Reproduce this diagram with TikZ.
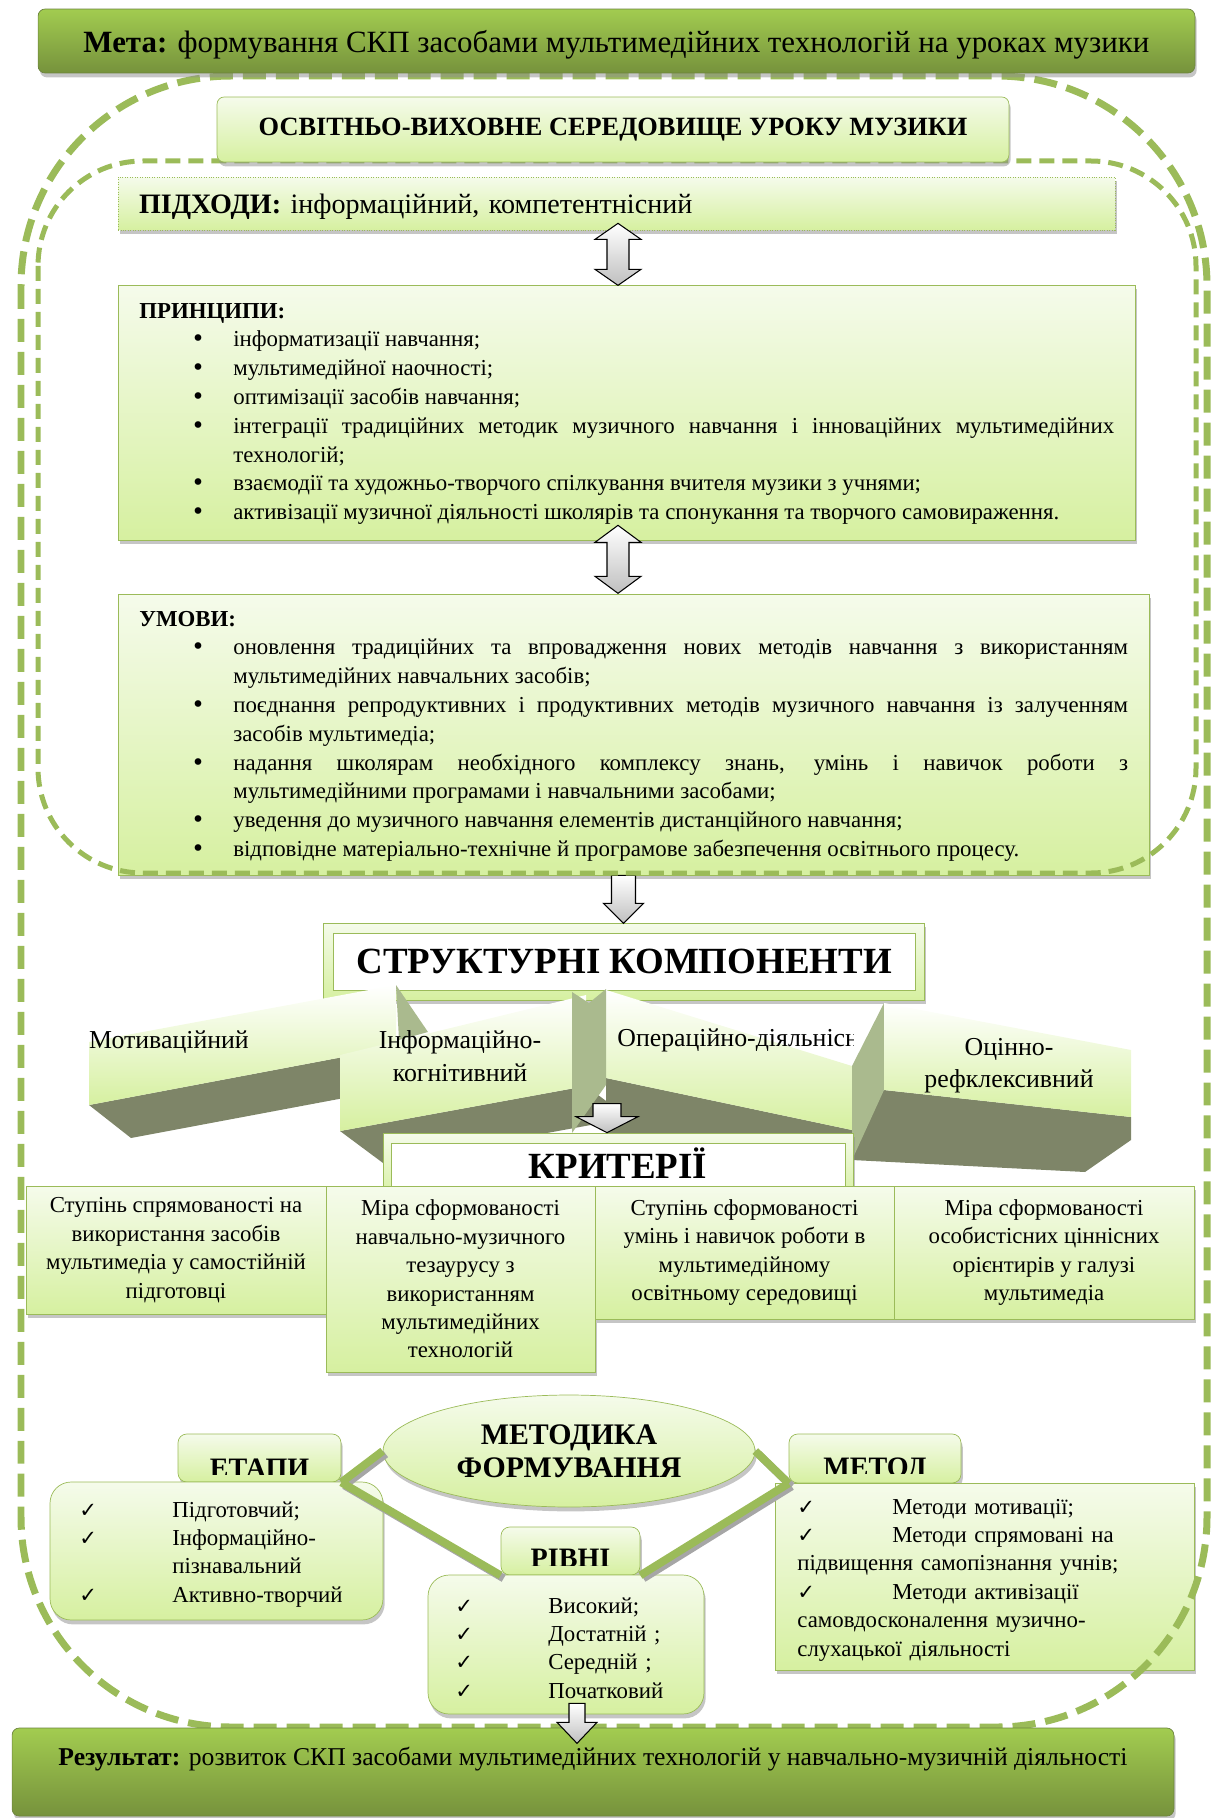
\documentclass[tikz,border=0pt]{standalone}
\usepackage{fontspec}
\setmainfont{Liberation Serif}
\newfontfamily\chkfont{DejaVu Sans}
\usetikzlibrary{calc}
\usetikzlibrary{shadows}
\usetikzlibrary{shapes}

\definecolor{grnline}{RGB}{155,187,89}
\definecolor{grntop}{RGB}{162,204,80}
\definecolor{grnbot}{RGB}{118,146,60}
\definecolor{paletop}{RGB}{245,251,235}
\definecolor{palebot}{RGB}{214,240,160}
\definecolor{facelight}{RGB}{214,240,160}
\definecolor{facedark}{RGB}{126,133,104}
\definecolor{facefold}{RGB}{170,186,142}

\tikzstyle{darkbox}=[rectangle, draw=grnline!70!black, top color=grntop, bottom color=grnbot,
        rounded corners=4pt, drop shadow={shadow xshift=1pt, shadow yshift=-2.5pt, fill=black!45}]
\tikzstyle{palebox}=[rectangle, draw=grnline, top color=paletop, bottom color=palebot,
        drop shadow={shadow xshift=1pt, shadow yshift=-2.5pt, fill=black!45}]
\tikzstyle{whitebox}=[rectangle, draw=grnline, fill=white]
\tikzstyle{tabbox}=[palebox, rounded corners=5pt]
\tikzstyle{listbox}=[palebox, rounded corners=12pt]
\tikzstyle{body}=[font=\fontsize{13}{16.2}\selectfont, inner sep=0pt]
\tikzstyle{longtext}=[font=\fontsize{13}{16.4}\selectfont, inner sep=0pt]
\tikzstyle{paneltext}=[font=\fontsize{14.7}{18.4}\selectfont, align=center, inner sep=0pt]
\tikzstyle{tabtext}=[font=\fontsize{16}{18}\selectfont\bfseries, inner sep=0pt]
\tikzstyle{bigtext}=[font=\fontsize{21}{24}\selectfont\bfseries]
\tikzstyle{face}=[top color=white, bottom color=facelight]
\tikzstyle{side}=[fill=facedark]
\tikzstyle{fold}=[fill=facefold]
\tikzstyle{blockarrow}=[draw=black, line width=0.6pt, top color=white, bottom color=gray!50]
\tikzstyle{band}=[line width=4.5pt, grnline]
\tikzstyle{bandshadow}=[line width=4.5pt, gray!70]
\tikzstyle{outerdash}=[grnline, line width=0.14cm, dash pattern=on 0.46cm off 0.2cm, rounded corners=4.2cm]
\tikzstyle{innerdash}=[grnline, line width=0.1cm, dash pattern=on 0.3cm off 0.16cm, rounded corners=2.1cm]

\newcommand{\bitem}[1]{\par\noindent\hangindent=1.88cm\hangafter=1%
  \makebox[1.88cm][l]{\hspace{1.04cm}{\chkfont •}}#1}
\newcommand{\chka}{\makebox[1.74cm][l]{\hspace{-0.12cm}\chkfont\fontsize{12}{12}\selectfont ✓}}
\newcommand{\chkb}{\makebox[1.9cm][l]{\chkfont\fontsize{12}{12}\selectfont ✓}}

\hyphenpenalty=10000
\exhyphenpenalty=10000

\begin{document}
\begin{tikzpicture}[x=0.02cm, y=-0.02cm]
    \useasboundingbox (0,0) rectangle (1213,1818);

    \node (pidkhody) [palebox, densely dotted, minimum width=19.94cm, minimum height=1.06cm,
                      text width=19.1cm, inner xsep=0.42cm, align=left, text depth=0pt,
                      font=\fontsize{16}{18}\selectfont] at (616.5,203.5)
        {\textbf{ПІДХОДИ:} інформаційний, компетентнісний};

    \node (pryntsypy) [palebox, minimum width=20.34cm, minimum height=5.1cm] at (626.5,412.5) {};
    \node (pryntsypytxt) [longtext, text width=19.5cm, align=justify, anchor=base west] at (139,318) {%
      \textbf{ПРИНЦИПИ:}
      \bitem{інформатизації навчання;}
      \bitem{мультимедійної наочності;}
      \bitem{оптимізації засобів навчання;}
      \bitem{інтеграції традиційних методик музичного навчання і інноваційних мультимедійних\linebreak технологій;}
      \bitem{взаємодії та художньо-творчого спілкування вчителя музики з учнями;}
      \bitem{активізації музичної діяльності школярів та спонукання та творчого самовираження.}};

    \node (umovy) [palebox, minimum width=20.62cm, minimum height=5.62cm] at (633.5,734.5) {};
    \node (umovytxt) [longtext, text width=19.78cm, align=justify, anchor=base west] at (139,626) {%
      \textbf{УМОВИ:}
      \bitem{оновлення традиційних та впровадження нових методів навчання з використанням\linebreak мультимедійних навчальних засобів;}
      \bitem{поєднання репродуктивних і продуктивних методів музичного навчання із залученням\linebreak засобів мультимедіа;}
      \bitem{надання школярам необхідного комплексу знань, умінь і навичок роботи з\linebreak мультимедійними програмами і навчальними засобами;}
      \bitem{уведення до музичного навчання елементів дистанційного навчання;}
      \bitem{відповідне матеріально-технічне й програмове забезпечення освітнього процесу.}};

    % up-down arrows
    \draw[blockarrow] ($(pidkhody.south)+(1.5,-7)$) -- ++(23,16) -- ++(-12,0) -- ++(0,30) -- ++(12,0)
        -- ++(-23,16) -- ++(-23,-16) -- ++(12,0) -- ++(0,-30) -- ++(-12,0) -- cycle;
    \draw[blockarrow] ($(pryntsypy.south)+(-8.5,-15)$) -- ++(23,17) -- ++(-12,0) -- ++(0,34) -- ++(12,0)
        -- ++(-23,17) -- ++(-23,-17) -- ++(12,0) -- ++(0,-34) -- ++(-12,0) -- cycle;

    % structural components
    \node (strukt) [palebox, minimum width=12.02cm, minimum height=1.54cm] at (623.5,961.5) {};
    \node (struktin) [whitebox, bigtext, minimum width=11.64cm, minimum height=1.14cm] at (624,961.5)
        {СТРУКТУРНІ КОМПОНЕНТИ};
    \draw[blockarrow] (strukt.north |- umovy.south) ++(-12,0) -- ++(24,0) -- ++(0,28) -- ++(8,0)
        -- ++(-20,20) -- ++(-20,-20) -- ++(8,0) -- cycle;

    \fill[side] (89,1105) -- (396,1047) -- (440,1080) -- (131,1138) -- cycle;
    \shade[face] (89,1042) -- (396,985) -- (396,1047) -- (89,1105) -- cycle;
    \fill[fold] (396,985) -- (428,1032) -- (399,1040) -- cycle;
    \node (mot) [paneltext] at (169,1042) {Мотиваційний};

    \fill[side] (340,1131) -- (586,1086) -- (629,1118) -- (383,1163) -- cycle;
    \shade[face] (340,1055) -- (586,995) -- (586,1086) -- (340,1131) -- cycle;
    \node (inf) [paneltext] at (460,1056) {Інформаційно-\\когнітивний};

    \fill[side] (606,1078) -- (852,1130) -- (852,1160) -- (606,1140) -- cycle;
    \shade[face] (606,990) -- (852,1066) -- (852,1130) -- (606,1078) -- cycle;
    \fill[fold] (572,992) -- (589,1003) -- (606,989) -- (606,1085) -- (572,1133) -- cycle;
    \begin{scope}
      \clip (600,1000) rectangle (853,1080);
      \node (oper) [paneltext, anchor=west] at (617,1040) {Операційно-діяльнісний};
    \end{scope}

    \fill[side] (884,1090) -- (1131,1117) -- (1131,1140) -- (1085,1172) -- (852,1160) -- (852,1130) -- cycle;
    \fill[fold] (852,1066) -- (884,1003) -- (884,1090) -- (852,1160) -- cycle;
    \shade[face] (884,1003) -- (1131,1050) -- (1131,1117) -- (884,1090) -- cycle;
    \node (ots) [paneltext] at (1009,1066) {Оцінно-\\рефклексивний};

    % criteria
    \node (krit) [palebox, minimum width=9.4cm, minimum height=1.32cm] at (618,1166) {};
    \node (kritin) [whitebox, minimum width=9.08cm, minimum height=1.12cm] at (618,1171) {};
    \node (krittxt) [bigtext, inner sep=0pt] at (618,1163) {КРИТЕРІЇ};
    \draw[blockarrow] ($(krit.north)+(-11,-29)$) ++(-14,0) -- ++(28,0) -- ++(0,13) -- ++(17,0)
        -- ++(-31,16) -- ++(-31,-16) -- ++(17,0) -- cycle;

    \node (crit1) [palebox, body, minimum width=6cm, minimum height=2.56cm, align=center] at (176,1250)
        {Ступінь спрямованості на\\використання засобів\\мультимедіа у самостійній\\підготовці};
    \node (crit2) [palebox, body, minimum width=5.38cm, minimum height=3.72cm, align=center] at (460.5,1279)
        {Міра сформованості\\навчально-музичного\\тезаурусу з\\використанням\\мультимедійних\\технологій};
    \node (crit3) [palebox, body, minimum width=5.98cm, minimum height=2.66cm, align=center] at (744.5,1252.5)
        {Ступінь сформованості\\умінь і навичок роботи в\\мультимедійному\\освітньому середовищі};
    \node (crit4) [palebox, body, minimum width=6cm, minimum height=2.66cm, align=center] at (1044,1252.5)
        {Міра сформованості\\особистісних ціннісних\\орієнтирів у галузі\\мультимедіа};

    % method of forming
    \node (metodyka) [palebox, ellipse, minimum width=7.44cm, minimum height=2.24cm, align=center,
                      font=\fontsize{17}{18.7}\selectfont\bfseries] at (569,1451) {МЕТОДИКА\\ФОРМУВАННЯ};

    \node (etapy) [tabbox, minimum width=3.26cm, minimum height=0.96cm] at (259.5,1458) {};
    \begin{scope}
      \clip ($(etapy.north west)+(0,-5)$) rectangle ($(etapy.south east)+(0,-8)$);
      \node (etapytxt) [tabtext, anchor=base] at (259.5,1477) {ЕТАПИ};
    \end{scope}
    \node (metod) [tabbox, minimum width=3.44cm, minimum height=0.98cm] at (875,1458.5) {};
    \begin{scope}
      \clip ($(metod.north west)+(0,-5)$) rectangle ($(metod.south east)+(0,-10)$);
      \node (metodtxt) [tabtext, anchor=base] at (875,1476) {МЕТОД};
    \end{scope}
    \node (rivni) [tabbox, minimum width=2.78cm, minimum height=0.96cm] at (570.5,1551) {};
    \begin{scope}
      \clip ($(rivni.north west)+(0,-5)$) rectangle ($(rivni.south east)+(0,-10)$);
      \node (rivnitxt) [tabtext, anchor=base] at (570.5,1567) {РІВНІ};
    \end{scope}

    \node (etapylist) [listbox, minimum width=6.66cm, minimum height=2.76cm] at (216.5,1551) {};
    \node (etapyitems) [body, text width=6cm, align=left, anchor=base west] at (85,1517)
        {\chka Підготовчий;\\\chka Інформаційно-\\\hspace*{1.74cm}пізнавальний\\\chka Активно-творчий};
    \node (rivnilist) [listbox, minimum width=5.52cm, minimum height=2.78cm] at (566,1644.5) {};
    \node (rivniitems) [body, text width=4.8cm, align=left, anchor=base west] at (461,1613)
        {\chka Високий;\\\chka Достатній ;\\\chka Середній ;\\\chka Початковий};
    \node (metodlist) [palebox, minimum width=8.38cm, minimum height=3.74cm] at (984.5,1576.5) {};
    \node (metoditems) [body, text width=7.9cm, align=left, anchor=base west] at (797,1514)
        {\chkb Методи мотивації;\\\chkb Методи спрямовані на\\підвищення самопізнання учнів;\\
         \chkb Методи активізації\\самовдосконалення музично-\\слухацької діяльності};

    \foreach \a/\b in {etapy.south east/metodyka.west, etapy.south east/rivni.south west,
                       metodyka.east/metod.south west, metod.south west/rivni.south east}
    {
      \draw[bandshadow] ([shift={(3,3)}]\a) -- ([shift={(3,3)}]\b);
      \draw[band] (\a) -- (\b);
    }

    % frames
    \draw[innerdash] (38,161) rectangle (1196,873);
    \draw[outerdash] (21,76) rectangle (1207,1727);

    \node (meta) [darkbox, minimum width=23.14cm, minimum height=1.28cm, text depth=0pt,
                  font=\fontsize{17.6}{20}\selectfont] at (616.5,41)
        {\textbf{Мета:} формування СКП засобами мультимедійних технологій на уроках музики};
    \node (osvitnyo) [palebox, rounded corners=4pt, minimum width=15.84cm, minimum height=1.3cm,
                      font=\fontsize{15}{17}\selectfont\bfseries] at (613,129.5)
        {ОСВІТНЬО-ВИХОВНЕ СЕРЕДОВИЩЕ УРОКУ МУЗИКИ};

    \node (rezultat) [darkbox, minimum width=23.24cm, minimum height=1.76cm] at (593,1772) {};
    \node (rezultattxt) [font=\fontsize{14.6}{18}\selectfont, inner sep=0pt] at (593,1759)
        {\textbf{Результат:} розвиток СКП засобами мультимедійних технологій у навчально-музичній діяльності};
    \draw[blockarrow] ($(rivnilist.south)+(11,-11)$) ++(-8,0) -- ++(16,0) -- ++(0,19) -- ++(12,0)
        -- ++(-20,21) -- ++(-20,-21) -- ++(12,0) -- cycle;
\end{tikzpicture}
\end{document}
